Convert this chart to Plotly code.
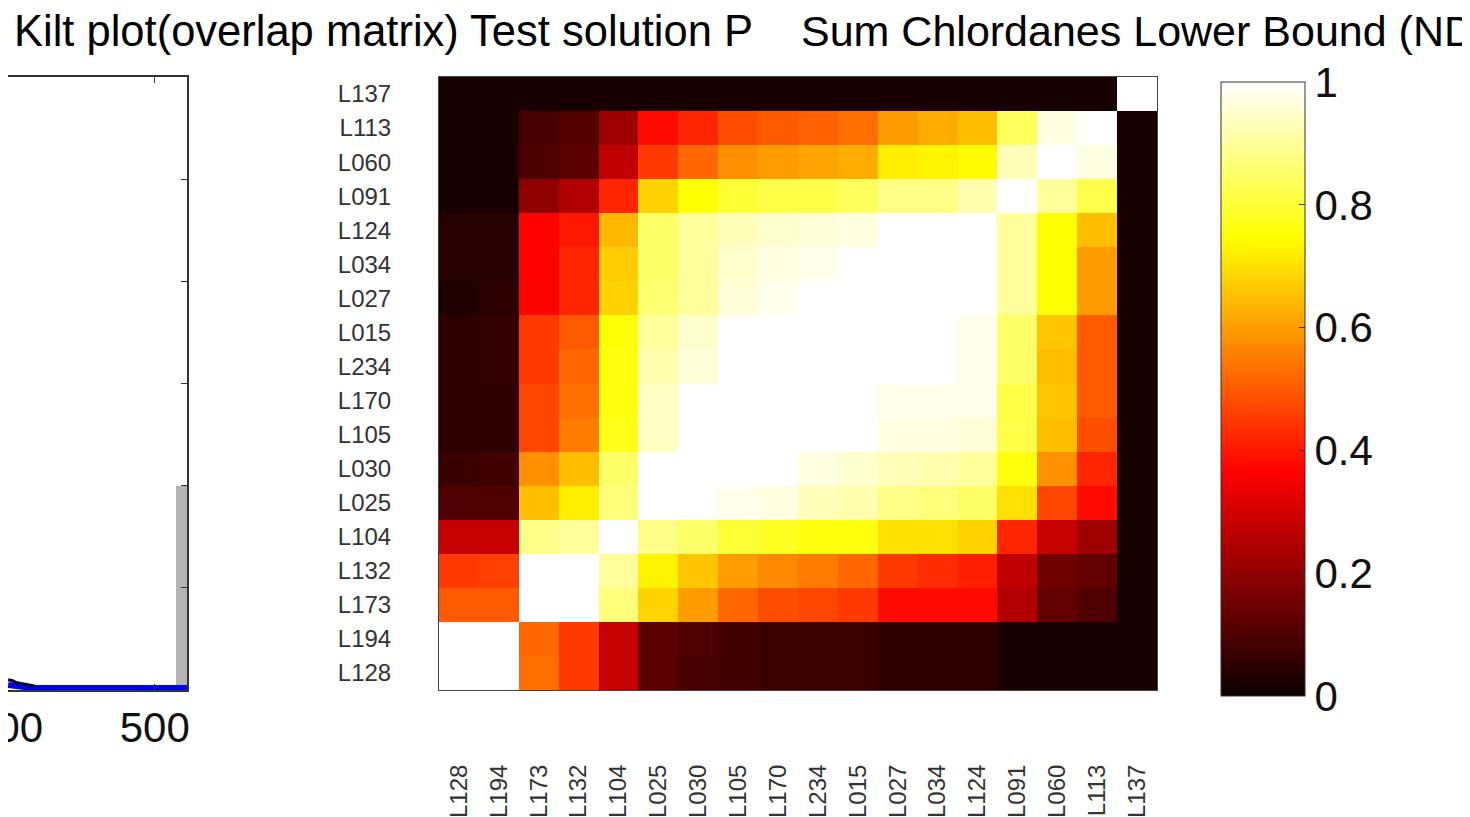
import plotly.graph_objects as go

# page body has an 8px default margin; figure sized to fit the 1470x817 window
OFF = 8
W, H = 1470 - OFF, 817 - OFF

# ---------------- data ----------------
labels_x = ["L128", "L194", "L173", "L132", "L104", "L025", "L030", "L105", "L170",
            "L234", "L015", "L027", "L034", "L124", "L091", "L060", "L113", "L137"]
# rows listed top -> bottom as displayed
rows_top_down = ["L137", "L113", "L060", "L091", "L124", "L034", "L027", "L015", "L234",
                 "L170", "L105", "L030", "L025", "L104", "L132", "L173", "L194", "L128"]

r_L137 = [0.02] * 17 + [1.0]
r_L113 = [0.02, 0.02, 0.09, 0.11, 0.22, 0.38, 0.42, 0.48, 0.50, 0.51, 0.53, 0.60, 0.62, 0.65, 0.84, 0.97, 1.00, 0.02]
r_L060 = [0.02, 0.02, 0.10, 0.12, 0.27, 0.45, 0.52, 0.58, 0.60, 0.61, 0.62, 0.72, 0.73, 0.74, 0.93, 1.00, 0.97, 0.02]
r_L091 = [0.02, 0.02, 0.20, 0.25, 0.42, 0.68, 0.75, 0.80, 0.82, 0.82, 0.84, 0.88, 0.88, 0.92, 1.00, 0.90, 0.82, 0.02]
r_L124 = [0.04, 0.04, 0.37, 0.40, 0.64, 0.85, 0.90, 0.93, 0.95, 0.96, 0.97, 1.00, 1.00, 1.00, 0.90, 0.75, 0.65, 0.02]
r_L034 = [0.04, 0.04, 0.37, 0.42, 0.67, 0.85, 0.90, 0.95, 0.97, 0.98, 1.00, 1.00, 1.00, 1.00, 0.90, 0.75, 0.60, 0.02]
r_L027 = [0.03, 0.05, 0.37, 0.42, 0.68, 0.86, 0.90, 0.96, 0.98, 1.00, 1.00, 1.00, 1.00, 1.00, 0.90, 0.75, 0.60, 0.02]
r_L015 = [0.05, 0.06, 0.45, 0.50, 0.75, 0.90, 0.95, 1.00, 1.00, 1.00, 1.00, 1.00, 1.00, 0.98, 0.85, 0.66, 0.50, 0.02]
r_L234 = [0.05, 0.06, 0.45, 0.52, 0.76, 0.92, 0.96, 1.00, 1.00, 1.00, 1.00, 1.00, 1.00, 0.98, 0.85, 0.65, 0.50, 0.02]
r_L170 = [0.05, 0.05, 0.47, 0.53, 0.76, 0.94, 1.00, 1.00, 1.00, 1.00, 1.00, 0.98, 0.98, 0.98, 0.82, 0.66, 0.50, 0.02]
r_L105 = [0.05, 0.05, 0.47, 0.55, 0.77, 0.94, 1.00, 1.00, 1.00, 1.00, 1.00, 0.97, 0.97, 0.96, 0.82, 0.65, 0.48, 0.02]
r_L030 = [0.07, 0.08, 0.58, 0.65, 0.85, 1.00, 1.00, 1.00, 1.00, 0.97, 0.95, 0.93, 0.92, 0.90, 0.76, 0.58, 0.42, 0.02]
r_L025 = [0.10, 0.10, 0.65, 0.72, 0.87, 1.00, 1.00, 0.98, 0.97, 0.93, 0.92, 0.88, 0.87, 0.85, 0.70, 0.47, 0.38, 0.02]
r_L104 = [0.28, 0.28, 0.88, 0.90, 1.00, 0.88, 0.85, 0.80, 0.78, 0.76, 0.76, 0.70, 0.70, 0.68, 0.42, 0.28, 0.22, 0.02]
r_L132 = [0.45, 0.46, 1.00, 1.00, 0.90, 0.73, 0.66, 0.60, 0.57, 0.55, 0.52, 0.45, 0.43, 0.41, 0.27, 0.15, 0.13, 0.02]
r_L173 = [0.50, 0.50, 1.00, 1.00, 0.87, 0.68, 0.60, 0.52, 0.48, 0.47, 0.45, 0.38, 0.38, 0.38, 0.25, 0.13, 0.10, 0.02]
r_L194 = [1.00, 1.00, 0.52, 0.45, 0.28, 0.12, 0.10, 0.08, 0.07, 0.07, 0.07, 0.05, 0.05, 0.05, 0.02, 0.02, 0.02, 0.02]
r_L128 = [1.00, 1.00, 0.53, 0.45, 0.28, 0.12, 0.09, 0.08, 0.07, 0.07, 0.07, 0.05, 0.05, 0.05, 0.02, 0.02, 0.02, 0.02]

matrix_top_down = [r_L137, r_L113, r_L060, r_L091, r_L124, r_L034, r_L027, r_L015, r_L234,
                   r_L170, r_L105, r_L030, r_L025, r_L104, r_L132, r_L173, r_L194, r_L128]

cbar_ticks = [0, 0.2, 0.4, 0.6, 0.8, 1]
cbar_text = ["0", "0.2", "0.4", "0.6", "0.8", "1"]

# left (partially visible) panel
hist_x = [518.4]
hist_y = [2.0]
dens_x = [400, 404, 408, 412, 416, 420, 430, 450, 480, 500, 522]
dens_y = [0.05, 0.04, 0.03, 0.03, 0.02, 0.02, 0.02, 0.02, 0.02, 0.02, 0.02]
kde_x = [400, 403, 406, 410, 414, 418]
kde_y = [0.10, 0.09, 0.07, 0.06, 0.05, 0.04]
left_xticks = [400, 500]
left_xtext = ["400", "500"]

title_left = "Kilt plot(overlap matrix) Test solution P"
title_right = "Sum Chlordanes Lower Bound (ND"

# MATLAB 'hot' colormap
hot = [[0.0, "rgb(11,0,0)"], [0.365, "rgb(255,0,0)"], [0.746, "rgb(255,255,0)"], [1.0, "rgb(255,255,255)"]]

FONT = "Liberation Sans, Arial, Helvetica, sans-serif"


def px_x(p):
    return (p - OFF) / W


def px_y(p):
    return 1 - (p - OFF) / H


fig = go.Figure()

fig.add_trace(go.Heatmap(
    z=matrix_top_down[::-1],
    x=labels_x,
    y=rows_top_down[::-1],
    colorscale=hot, zmin=0, zmax=1,
    xaxis="x", yaxis="y",
    colorbar=dict(
        x=px_x(1221), xanchor="left", xref="paper", xpad=0,
        y=px_y(696), yanchor="bottom", yref="paper", ypad=0,
        lenmode="pixels", len=614,
        thicknessmode="pixels", thickness=84,
        outlinewidth=1, outlinecolor="#333333",
        tickvals=cbar_ticks, ticktext=cbar_text,
        ticks="inside", ticklen=6, tickcolor="#333333",
        tickfont=dict(family=FONT, size=42, color="#111111"),
    ),
))

fig.add_trace(go.Bar(x=hist_x, y=hist_y, width=7.2, marker=dict(color="#B4B4B4", line=dict(width=0)),
                     xaxis="x2", yaxis="y2", showlegend=False))
fig.add_trace(go.Scatter(x=dens_x, y=dens_y, mode="lines", line=dict(color="#0000EE", width=6),
                         xaxis="x2", yaxis="y2", showlegend=False))
fig.add_trace(go.Scatter(x=kde_x, y=kde_y, mode="lines", line=dict(color="#000033", width=3),
                         xaxis="x2", yaxis="y2", showlegend=False))

ydom = [px_y(690), px_y(77)]

fig.update_layout(
    width=W, height=H,
    margin=dict(l=0, r=0, t=0, b=0, autoexpand=False),
    paper_bgcolor="white", plot_bgcolor="white",
    showlegend=False,
    bargap=0,
    xaxis=dict(
        domain=[px_x(439), px_x(1157)], anchor="y",
        type="category", tickangle=-90, automargin=False,
        tickfont=dict(family=FONT, size=24, color="#333333"),
        ticks="", ticklabelstandoff=64,
        showline=True, mirror=True, linecolor="#444444", linewidth=1,
        showgrid=False, zeroline=False,
    ),
    yaxis=dict(
        domain=ydom, anchor="x", automargin=False,
        type="category",
        tickfont=dict(family=FONT, size=24, color="#333333"),
        ticks="", ticklabelstandoff=42,
        showline=True, mirror=True, linecolor="#444444", linewidth=1,
        showgrid=False, zeroline=False,
    ),
    xaxis2=dict(
        domain=[0, px_x(187)], anchor="y2", automargin=False,
        range=[399.9, 522], tickvals=left_xticks, ticktext=left_xtext,
        ticks="inside", ticklen=6, tickcolor="#333333",
        tickfont=dict(family=FONT, size=42, color="#111111"),
        ticklabeloverflow="allow",
        showline=True, mirror="ticks", linecolor="#333333", linewidth=1.5,
        showgrid=False, zeroline=False,
    ),
    yaxis2=dict(
        domain=ydom, anchor="x2", side="right", automargin=False,
        range=[0, 6], dtick=1,
        ticks="inside", ticklen=6, tickcolor="#333333",
        showticklabels=False,
        showline=True, mirror=False, linecolor="#333333", linewidth=1.5,
        showgrid=False, zeroline=False,
    ),
    annotations=[
        dict(text=title_left, xref="paper", yref="paper", x=px_x(12), y=px_y(31),
             xanchor="left", yanchor="middle", showarrow=False,
             font=dict(family=FONT, size=43.5, color="#000000")),
        dict(text=title_right, xref="paper", yref="paper", x=px_x(799), y=px_y(31),
             xanchor="left", yanchor="middle", showarrow=False,
             font=dict(family=FONT, size=43, color="#000000")),
    ],
)

fig.write_html("out.html")
